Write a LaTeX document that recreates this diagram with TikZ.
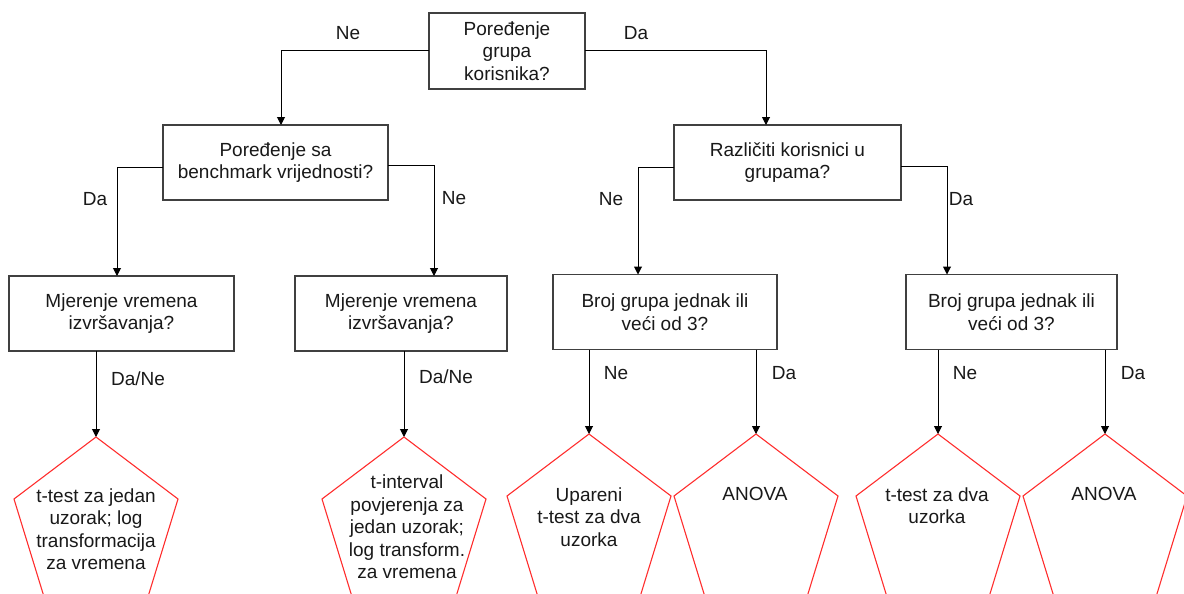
\documentclass[tikz,border=0pt]{standalone}
\usepackage{fontspec}
\setmainfont{Liberation Sans}
\usetikzlibrary{arrows.meta}
\begin{document}
\begin{tikzpicture}[x=1pt,y=-1pt,
  every node/.style={font=\fontsize{19}{22.5}\selectfont, text=black!90},
  qbox/.style={draw=black!75, line width=1.3pt, fill=white, align=center,
               inner sep=0pt, outer sep=0pt, minimum height=75pt},
  arr/.style={draw=black, line width=1pt, -{Triangle[length=8pt,width=8pt]}},
  pent/.style={draw={rgb,255:red,255;green,45;blue,45}, line width=1.1pt, line join=miter},
  lbl/.style={inner sep=0pt},
  ptext/.style={align=center, inner sep=0pt}
]
\useasboundingbox (0,0) rectangle (1184,594);
\clip (0,0) rectangle (1184,594);

% decision boxes
\node[qbox, minimum width=156pt, minimum height=76pt] (q0) at (507,51) {Poređenje\\grupa\\korisnika?};
\node[qbox, minimum width=225pt] (q1) at (275.5,162.5) {Poređenje sa\\benchmark vrijednosti?};
\node[qbox, minimum width=227pt] (q2) at (787.5,162.5) {Različiti korisnici u\\grupama?};
\node[qbox, minimum width=225pt] (b1) at (121.5,313.5) {Mjerenje vremena\\izvršavanja?};
\node[qbox, minimum width=212pt] (b2) at (401,313.5) {Mjerenje vremena\\izvršavanja?};
\node[qbox, minimum width=224pt] (b3) at (665,312) {Broj grupa jednak ili\\veći od 3?};
\node[qbox, minimum width=211pt] (b4) at (1011.5,312) {Broj grupa jednak ili\\veći od 3?};

% result pentagons (apex coordinates)
\coordinate (p1) at (96,437);
\coordinate (p2) at (404,437);
\coordinate (p3) at (589,434);
\coordinate (p4) at (756,434);
\coordinate (p5) at (938,434);
\coordinate (p6) at (1105,434);
\foreach \p in {p1,p2,p3,p4,p5,p6}
  \draw[pent] (\p) -- ++(82,62) -- ++(-31,101) -- ++(-102,0) -- ++(-31,-101) -- cycle;

\node[ptext] (r1) at (96,529) {t-test za jedan\\uzorak; log\\transformacija\\za vremena};
\node[ptext] (r2) at (407,527) {t-interval\\povjerenja za\\jedan uzorak;\\log transform.\\za vremena};
\node[ptext] (r3) at (589,517) {Upareni\\t-test za dva\\uzorka};
\node[ptext] (r4) at (755,494) {ANOVA};
\node[ptext] (r5) at (937,505.5) {t-test za dva\\uzorka};
\node[ptext] (r6) at (1104,494) {ANOVA};

% connectors
\draw[arr] (q0.west) -| ([xshift=5.5pt]q1.north);
\draw[arr] (q0.east) -| ([xshift=-21.5pt]q2.north);
\draw[arr] ([yshift=-4.5pt]q1.west) -| ([xshift=-4.5pt]b1.north);
\draw[arr] ([yshift=-2.5pt]q1.east) -| ([xshift=33pt]b2.north);
\draw[arr] ([yshift=-4.5pt]q2.west) -| ([xshift=-27pt]b3.north);
\draw[arr] ([yshift=-3.5pt]q2.east) -| ([xshift=-64.5pt]b4.north);
\draw[arr] (b1.south -| p1) -- (p1);
\draw[arr] (b2.south -| p2) -- (p2);
\draw[arr] (b3.south -| p3) -- (p3);
\draw[arr] (b3.south -| p4) -- (p4);
\draw[arr] (b4.south -| p5) -- (p5);
\draw[arr] (b4.south -| p6) -- (p6);

% branch labels
\node[lbl] (l1) at (348,33) {Ne};
\node[lbl] (l2) at (636,33) {Da};
\node[lbl] (l3) at (95,199) {Da};
\node[lbl] (l4) at (454,198) {Ne};
\node[lbl] (l5) at (611,199) {Ne};
\node[lbl] (l6) at (961,199) {Da};
\node[lbl] (l7) at (138,379) {Da/Ne};
\node[lbl] (l8) at (446,377) {Da/Ne};
\node[lbl] (l9) at (616,373) {Ne};
\node[lbl] (l10) at (784,373) {Da};
\node[lbl] (l11) at (965,373) {Ne};
\node[lbl] (l12) at (1133,373) {Da};
\end{tikzpicture}
\end{document}
